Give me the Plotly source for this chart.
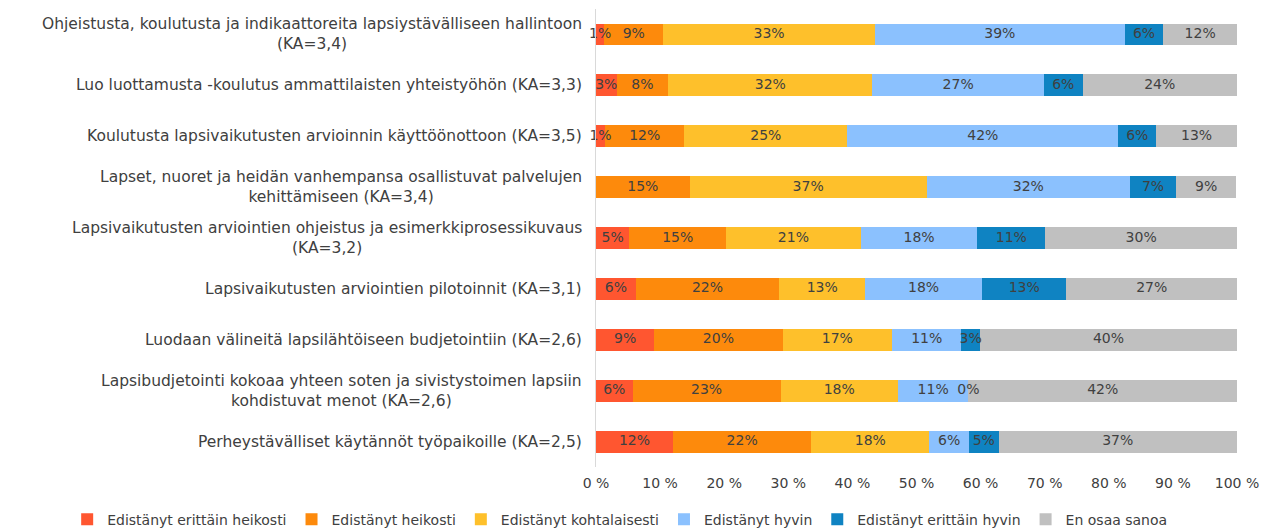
import plotly.graph_objects as go

categories = [
    "Ohjeistusta, koulutusta ja indikaattoreita lapsiystävälliseen hallintoon<br>(KA=3,4)",
    "Luo luottamusta -koulutus ammattilaisten yhteistyöhön (KA=3,3)",
    "Koulutusta lapsivaikutusten arvioinnin käyttöönottoon (KA=3,5)",
    "Lapset, nuoret ja heidän vanhempansa osallistuvat palvelujen<br>kehittämiseen (KA=3,4)",
    "Lapsivaikutusten arviointien ohjeistus ja esimerkkiprosessikuvaus<br>(KA=3,2)",
    "Lapsivaikutusten arviointien pilotoinnit (KA=3,1)",
    "Luodaan välineitä lapsilähtöiseen budjetointiin (KA=2,6)",
    "Lapsibudjetointi kokoaa yhteen soten ja sivistystoimen lapsiin<br>kohdistuvat menot (KA=2,6)",
    "Perheystävälliset käytännöt työpaikoille (KA=2,5)",
]

series_names = [
    "Edistänyt erittäin heikosti",
    "Edistänyt heikosti",
    "Edistänyt kohtalaisesti",
    "Edistänyt hyvin",
    "Edistänyt erittäin hyvin",
    "En osaa sanoa",
]

erittain_heikosti = [1.3, 3.2, 1.4, None, 5.2, 6.2, 9.1, 5.7, 12.0]
heikosti = [9.2, 8.1, 12.4, 14.6, 15.1, 22.4, 20.0, 23.1, 21.6]
kohtalaisesti = [33.0, 31.8, 25.4, 37.0, 21.0, 13.4, 17.1, 18.3, 18.4]
hyvin = [39.0, 26.8, 42.3, 31.7, 18.2, 18.2, 10.8, 11.0, 6.2]
erittain_hyvin = [6.0, 6.0, 5.9, 7.2, 10.6, 13.2, 2.9, 0.0, 4.6]
en_osaa = [11.5, 24.1, 12.6, 9.4, 29.9, 26.6, 40.1, 41.9, 37.2]

values = [erittain_heikosti, heikosti, kohtalaisesti, hyvin, erittain_hyvin, en_osaa]
colors = ["#FF5630", "#FD8A0C", "#FEC02B", "#8BC1FE", "#0F83C2", "#C0C0C0"]

tick_vals = [0, 10, 20, 30, 40, 50, 60, 70, 80, 90, 100]
tick_text = [f"{v} %" for v in tick_vals]

FONT = "DejaVu Sans"
TXT = "#404040"

fig = go.Figure()
for name, vals, col in zip(series_names, values, colors):
    fig.add_trace(go.Bar(
        y=categories, x=[v if v is not None else 0 for v in vals],
        name=name, orientation="h", marker=dict(color=col, line=dict(width=0)),
        hoverinfo="x+name",
    ))

# data labels centred on each segment
lx, ly, lt = [], [], []
for i, cat in enumerate(categories):
    cum = 0.0
    for vals in values:
        v = vals[i]
        if v is None:
            continue
        lx.append(cum + v / 2)
        ly.append(cat)
        lt.append(f"{round(v):d}%")
        cum += v
fig.add_trace(go.Scatter(
    x=lx, y=ly, text=lt, mode="text", showlegend=False, cliponaxis=False,
    textfont=dict(family=FONT, size=14, color=TXT), hoverinfo="skip",
))

for cat in categories:
    fig.add_annotation(
        x=0, xref="paper", y=cat, yref="y", text=cat, showarrow=False,
        xanchor="right", xshift=-12, align="center",
        font=dict(family=FONT, size=15.5, color=TXT),
    )

fig.update_layout(
    width=1263, height=520, autosize=False,
    barmode="stack", bargap=0.57,
    plot_bgcolor="white", paper_bgcolor="white",
    margin=dict(l=588, r=34, t=1, b=61, autoexpand=False),
    font=dict(family=FONT, size=14, color=TXT),
    xaxis=dict(range=[0, 100], tickvals=tick_vals, ticktext=tick_text,
               showgrid=False, zeroline=False, showline=False,
               ticklabelstandoff=6,
               tickfont=dict(family=FONT, size=14, color=TXT)),
    yaxis=dict(autorange="reversed", showticklabels=False, showgrid=False,
               showline=True, linecolor="#D9D9D9", linewidth=1, ticks=""),
    legend=dict(orientation="h", xref="paper", x=-0.825, xanchor="left",
                yref="paper", y=-0.08, yanchor="top", traceorder="normal",
                font=dict(family=FONT, size=14, color=TXT), itemwidth=30,
                tracegroupgap=0),
    showlegend=True,
)

fig.write_html("out.html")
